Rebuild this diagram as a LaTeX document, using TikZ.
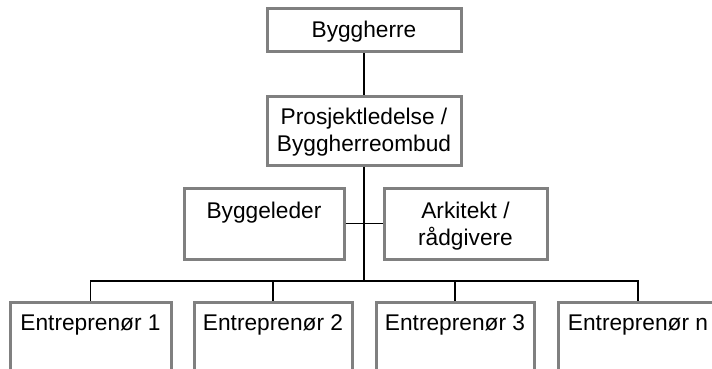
\documentclass[tikz,border=0pt]{standalone}
\usepackage{fontspec}
\setmainfont{Liberation Sans}
\begin{document}
\begin{tikzpicture}[x=1pt,y=-1pt,
  box/.style={draw={rgb,255:red,128;green,128;blue,128}, line width=3pt,
    rectangle, inner sep=0pt},
  lbl/.style={font=\fontsize{22.7}{27}\selectfont, align=center,
    inner sep=0pt, anchor=base},
  conn/.style={draw=black, line width=1.6pt}]
\useasboundingbox (0,0) rectangle (712,369);
\clip (0,0) rectangle (712,369);

% boxes
\node[box, minimum width=194pt, minimum height=43pt] (bh) at (364,30.5) {};
\node[box, minimum width=194pt, minimum height=69pt] (pl) at (364,130.5) {};
\node[box, minimum width=160pt, minimum height=71pt] (bl) at (264,223.5) {};
\node[box, minimum width=163pt, minimum height=71pt] (ark) at (465.5,223.5) {};
\node[box, minimum width=161pt, minimum height=98pt] (e1) at (90.5,351) {};
\node[box, minimum width=158pt, minimum height=98pt] (e2) at (273,351) {};
\node[box, minimum width=158pt, minimum height=98pt] (e3) at (455,351) {};
\node[box, minimum width=160pt, minimum height=98pt] (en) at (638,351) {};

% labels (base anchor sits on the last line of each label)
\node[lbl] (tbh) at (364,38) {Byggherre};
\node[lbl] (tpl) at (364,151) {Prosjektledelse /\\Byggherreombud};
\node[lbl] (tbl) at (264,218) {Byggeleder};
\node[lbl] (tark) at (465.5,245) {Arkitekt /\\rådgivere};
\node[lbl] (te1) at (90.5,330) {Entreprenør 1};
\node[lbl] (te2) at (273,330) {Entreprenør 2};
\node[lbl] (te3) at (455,330) {Entreprenør 3};
\node[lbl] (ten) at (638,330) {Entreprenør n};

% connectors
\coordinate (bus) at (364,281);
\draw[conn] (bh.south) -- (pl.north);
\draw[conn] (pl.south) -- (bus);
\draw[conn] (bl.east) -- (ark.west);
\draw[conn] (e1.north) -- (e1.north |- bus) -- (en.north |- bus) -- (en.north);
\draw[conn] (e2.north) -- (e2.north |- bus);
\draw[conn] (e3.north) -- (e3.north |- bus);
\end{tikzpicture}
\end{document}
